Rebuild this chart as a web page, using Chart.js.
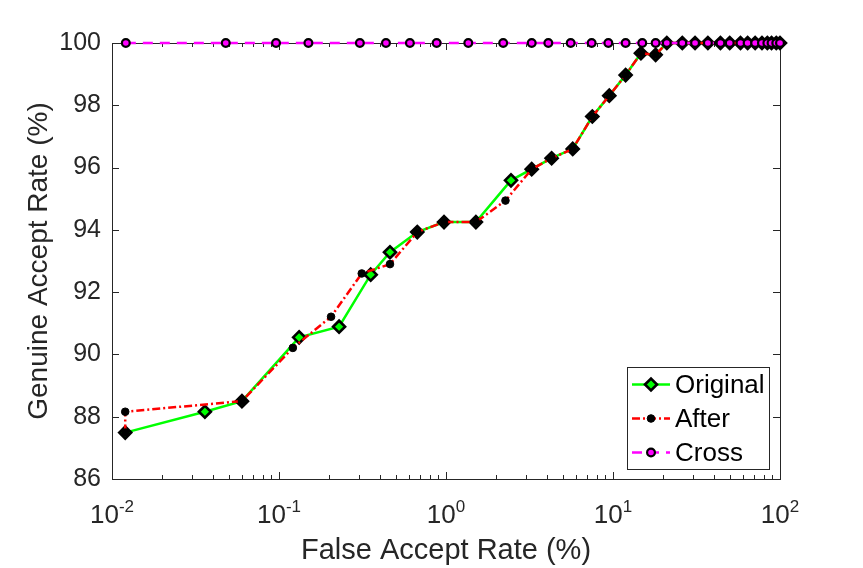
<!DOCTYPE html>
<html>
<head>
<meta charset="utf-8">
<script src="https://cdn.jsdelivr.net/npm/chart.js@4.4.1/dist/chart.umd.min.js"></script>
<style>
	body { margin: 0; background: #fff; }
	#wrap { width: 863px; height: 568px; }
</style>
</head>
<body>
<div id="wrap"><canvas id="chart" width="863" height="568"></canvas></div>
<script>
const originalFar = [0.012, 0.036, 0.06, 0.132, 0.229, 0.354, 0.462, 0.673, 0.973, 1.51, 2.45, 3.26, 4.29, 5.74, 7.52, 9.5, 11.9, 14.7, 18.0, 21, 26, 31, 37, 44, 50, 58, 64, 71, 78, 84, 89, 95, 100];
const originalGar = [87.49, 88.16, 88.5, 90.55, 90.89, 92.56, 93.28, 93.93, 94.25, 94.25, 95.59, 95.95, 96.3, 96.6, 97.64, 98.31, 98.97, 99.67, 99.62, 100, 100, 100, 100, 100, 100, 100, 100, 100, 100, 100, 100, 100, 100];

const afterFar = [0.012, 0.012, 0.06, 0.121, 0.205, 0.313, 0.462, 0.673, 0.973, 1.51, 2.27, 3.26, 4.29, 5.74, 7.52, 9.5, 11.9, 14.7, 18.0, 21, 26, 31, 37, 44, 50, 58, 64, 71, 78, 84, 89, 95, 100];
const afterGar = [87.49, 88.16, 88.5, 90.21, 91.21, 92.6, 92.9, 93.93, 94.25, 94.25, 94.94, 95.95, 96.3, 96.6, 97.64, 98.31, 98.97, 99.67, 99.62, 100, 100, 100, 100, 100, 100, 100, 100, 100, 100, 100, 100, 100, 100];

const crossFar = [0.0121, 0.048, 0.096, 0.15, 0.305, 0.437, 0.608, 0.879, 1.36, 2.2, 3.26, 4.1, 5.58, 7.45, 9.38, 11.9, 14.97, 18.0, 21, 26, 31, 37, 44, 50, 58, 64, 71, 78, 84, 89, 95, 100];
const crossGar = [100, 100, 100, 100, 100, 100, 100, 100, 100, 100, 100, 100, 100, 100, 100, 100, 100, 100, 100, 100, 100, 100, 100, 100, 100, 100, 100, 100, 100, 100, 100, 100];

const xTickExps = [-2, -1, 0, 1, 2];
const yTicks = [86, 88, 90, 92, 94, 96, 98, 100];

const AXIS = "#262626";
const FONT = "'Liberation Sans', Arial, sans-serif";

const toPoints = (xs, ys) => xs.map((x, i) => ({ x, y: ys[i] }));

// box + inward ticks, matlab style
const axesBox = {
	id: "axesBox",
	beforeDatasetsDraw(chart) {
		const { ctx, chartArea: a, scales } = chart;
		ctx.save();
		ctx.strokeStyle = AXIS;
		ctx.lineWidth = 1;
		ctx.strokeRect(Math.round(a.left) + 0.5, Math.round(a.top) + 0.5, Math.round(a.right - a.left), Math.round(a.bottom - a.top));
		ctx.beginPath();
		yTicks.forEach((v) => {
			const y = Math.round(scales.y.getPixelForValue(v)) + 0.5;
			ctx.moveTo(a.left, y); ctx.lineTo(a.left + 7, y);
			ctx.moveTo(a.right, y); ctx.lineTo(a.right - 7, y);
		});
		for (let d = -2; d <= 2; d++) {
			for (let m = 1; m <= 9; m++) {
				if (d === 2 && m > 1) break;
				const x = Math.round(scales.x.getPixelForValue(m * Math.pow(10, d))) + 0.5;
				const len = m === 1 ? 7 : 4;
				ctx.moveTo(x, a.bottom); ctx.lineTo(x, a.bottom - len);
				ctx.moveTo(x, a.top); ctx.lineTo(x, a.top + len);
			}
		}
		ctx.stroke();
		ctx.restore();
	},
	afterDraw(chart) {
		const { ctx, chartArea: a, scales } = chart;
		ctx.save();
		ctx.fillStyle = AXIS;
		ctx.textBaseline = "alphabetic";
		ctx.textAlign = "left";
		xTickExps.forEach((e) => {
			const x = scales.x.getPixelForValue(Math.pow(10, e));
			ctx.font = "26px " + FONT;
			const wBase = ctx.measureText("10").width;
			ctx.font = "17px " + FONT;
			const exp = e < 0 ? "-" + Math.abs(e) : String(e);
			const wExp = ctx.measureText(exp).width;
			const left = x - (wBase + wExp) / 2;
			ctx.font = "26px " + FONT;
			ctx.fillText("10", left, a.bottom + 44);
			ctx.font = "17px " + FONT;
			ctx.fillText(exp, left + wBase, a.bottom + 33);
		});
		ctx.restore();
	},
};

const legendBox = {
	id: "legendBox",
	afterDraw(chart) {
		const { ctx } = chart;
		const x0 = 627.5, y0 = 367.5, w = 142, h = 102;
		ctx.save();
		ctx.fillStyle = "#fff";
		ctx.fillRect(x0, y0, w, h);
		ctx.strokeStyle = AXIS;
		ctx.lineWidth = 1;
		ctx.strokeRect(x0, y0, w, h);
		chart.data.datasets.forEach((ds, i) => {
			const y = 384.5 + i * 34;
			ctx.save();
			ctx.strokeStyle = ds.borderColor;
			ctx.lineWidth = ds.borderWidth;
			ctx.setLineDash(ds.borderDash || []);
			ctx.beginPath();
			ctx.moveTo(632, y); ctx.lineTo(670, y);
			ctx.stroke();
			ctx.setLineDash([]);
			ctx.fillStyle = ds.pointBackgroundColor;
			ctx.strokeStyle = ds.pointBorderColor;
			ctx.lineWidth = ds.pointBorderWidth;
			Chart.helpers.drawPoint(ctx, { pointStyle: ds.pointStyle, radius: ds.pointRadius, borderWidth: ds.pointBorderWidth, rotation: 0 }, 651, y);
			ctx.restore();
			ctx.fillStyle = "#000";
			ctx.font = "26px " + FONT;
			ctx.textBaseline = "middle";
			ctx.textAlign = "left";
			ctx.fillText(ds.label, 675, y + 1);
		});
		ctx.restore();
	},
};

new Chart(document.getElementById("chart"), {
	type: "line",
	data: {
		datasets: [
			{
				label: "Original",
				data: toPoints(originalFar, originalGar),
				borderColor: "#00ff00",
				borderWidth: 2.5,
				pointStyle: "rectRot",
				pointRadius: 6,
				pointBackgroundColor: "#00ff00",
				pointBorderColor: "#000",
				pointBorderWidth: 2.6,
				order: 3,
			},
			{
				label: "After",
				data: toPoints(afterFar, afterGar),
				borderColor: "#ff0000",
				borderWidth: 2.5,
				borderDash: [8, 3, 2, 3],
				pointStyle: "circle",
				pointRadius: 3.8,
				pointBackgroundColor: "#000",
				pointBorderColor: "#000",
				pointBorderWidth: 1,
				order: 2,
			},
			{
				label: "Cross",
				data: toPoints(crossFar, crossGar),
				borderColor: "#ff00ff",
				borderWidth: 2.5,
				borderDash: [10, 7],
				pointStyle: "circle",
				pointRadius: 3.9,
				pointBackgroundColor: "#ff00ff",
				pointBorderColor: "#000",
				pointBorderWidth: 2.2,
				order: 1,
			},
		],
	},
	options: {
		responsive: false,
		animation: false,
		layout: { padding: { top: 43, right: 83, left: 0, bottom: 0 } },
		elements: { line: { tension: 0 } },
		datasets: { line: { clip: false } },
		plugins: {
			legend: { display: false },
			tooltip: { enabled: false },
		},
		scales: {
			x: {
				type: "logarithmic",
				min: 0.01,
				max: 100,
				grid: { display: false },
				border: { display: false },
				ticks: { display: false },
				title: {
					display: true,
					text: "False Accept Rate (%)",
					color: AXIS,
					font: { family: FONT, size: 29 },
					padding: { top: 0, bottom: 0 },
				},
				afterFit: (scale) => { scale.height = 89; },
			},
			y: {
				min: 86,
				max: 100,
				grid: { display: false, drawTicks: false },
				border: { display: false },
				ticks: {
					stepSize: 2,
					color: AXIS,
					padding: 11,
					font: { family: FONT, size: 25 },
				},
				title: {
					display: true,
					text: "Genuine Accept Rate (%)",
					color: AXIS,
					font: { family: FONT, size: 28 },
					padding: { top: 22, bottom: 0 },
				},
				afterFit: (scale) => { scale.width = 112; },
			},
		},
	},
	plugins: [axesBox, legendBox],
});
</script>
</body>
</html>
